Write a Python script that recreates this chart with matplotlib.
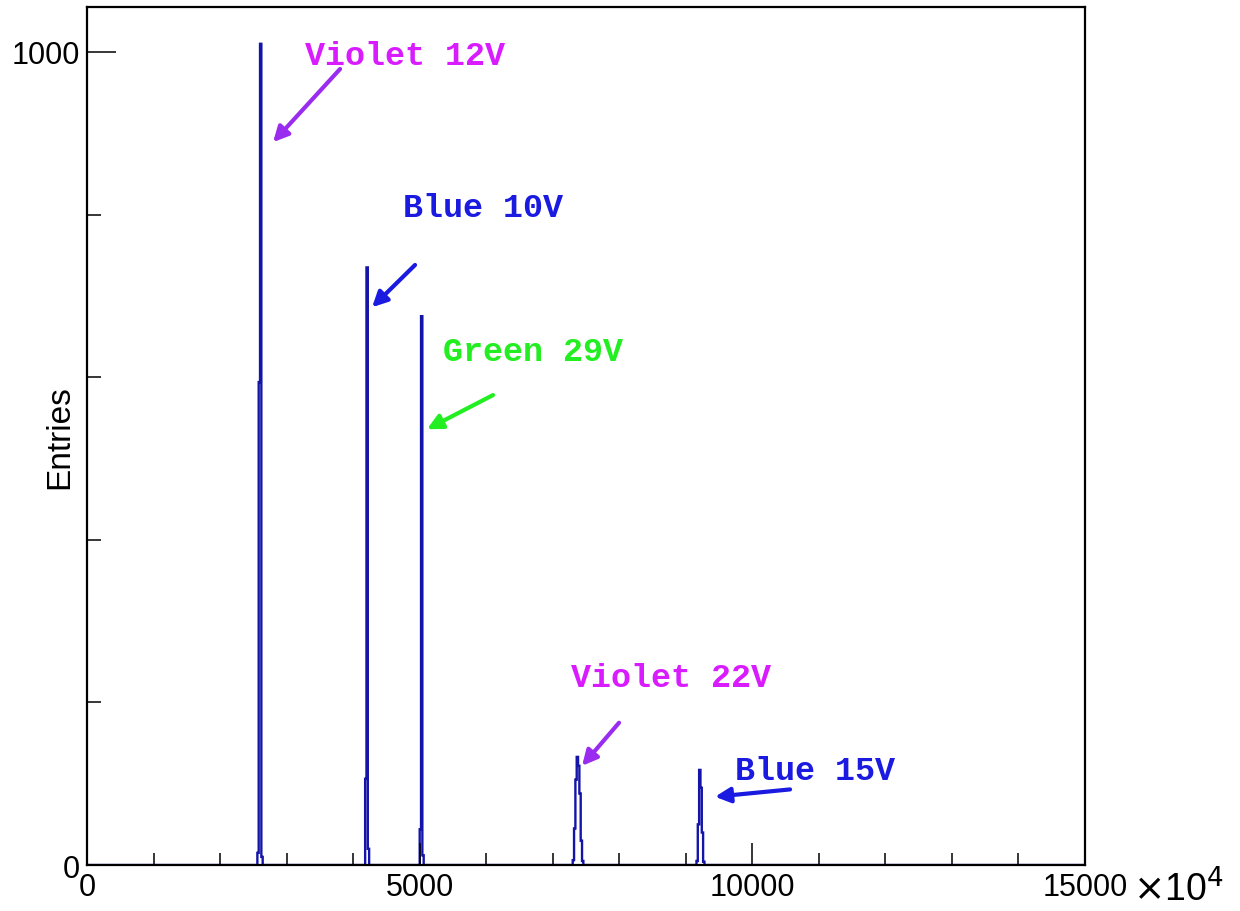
import numpy as np
import matplotlib
matplotlib.use("Agg")
import matplotlib.pyplot as plt
from matplotlib.ticker import MultipleLocator, FixedLocator

# histogram: 20-unit bins from 0 to 15000, only non-empty bins listed
bin_width = 20
x_min, x_max = 0, 15000
filled_bins = [2560, 2580, 2600, 2620,
               4180, 4200, 4220,
               5000, 5020, 5040,
               7300, 7320, 7340, 7360, 7380, 7400, 7420, 7440,
               9160, 9180, 9200, 9220, 9240, 9260]
filled_counts = [15, 594, 1010, 10,
                 106, 735, 20,
                 44, 675, 12,
                 6, 45, 105, 133, 122, 88, 30, 5,
                 5, 50, 117, 95, 40, 4]

labels = ["Violet 12V", "Blue 10V", "Green 29V", "Violet 22V", "Blue 15V"]
text_colors = ["#d81cff", "#1a1ae0", "#22ee22", "#d81cff", "#1a1ae0"]
arrow_colors = ["#9a2cf0", "#1a1ae0", "#22ee22", "#9a2cf0", "#1a1ae0"]
text_pos = [(3277, 995), (4750, 809), (5351, 632), (7275, 231), (9740, 116)]
arrow_tail = [(3803, 979), (4930, 738), (6102, 578), (7996, 175), (10567, 93)]
arrow_head = [(2796, 889), (4284, 686), (5110, 536), (7440, 122), (9439, 84)]

edges = np.arange(x_min, x_max + bin_width, bin_width)
counts = np.zeros(len(edges) - 1)
for lo, c in zip(filled_bins, filled_counts):
    counts[int((lo - x_min) // bin_width)] = c

fig = plt.figure(figsize=(12.4, 9.12), dpi=100)
ax = fig.add_axes([0.0702, 0.0504, 0.875 - 0.0702, 0.991 - 0.0504])

ax.stairs(counts, edges, color="#1414a8", linewidth=1.7)

ax.set_xlim(x_min, x_max)
ax.set_ylim(0, 1055)

sans = ["Liberation Sans", "DejaVu Sans"]
ax.xaxis.set_major_locator(FixedLocator([0, 5000, 10000, 15000]))
ax.xaxis.set_minor_locator(MultipleLocator(1000))
ax.yaxis.set_major_locator(FixedLocator([0, 1000]))
ax.yaxis.set_minor_locator(MultipleLocator(200))
ax.tick_params(which="both", direction="in", top=False, right=False, width=1.1)
ax.tick_params(axis="x", which="major", length=16, pad=5)
ax.tick_params(axis="x", which="minor", length=9)
ax.tick_params(axis="y", which="major", length=21, pad=5)
ax.tick_params(axis="y", which="minor", length=10)
for lab in ax.get_xticklabels() + ax.get_yticklabels():
    lab.set_fontfamily(sans)
    lab.set_fontsize(22)

for sp in ax.spines.values():
    sp.set_linewidth(1.6)

ax.set_ylabel("Entries", fontsize=24, family=sans)
ax.yaxis.set_label_coords(-0.012, 0.5)

fig.text(0.914, 0.025, r"$\times$10$^{4}$", fontsize=27, ha="left", va="center",
         family=sans)

for lab, tc, ac, tp, tail, head in zip(labels, text_colors, arrow_colors,
                                       text_pos, arrow_tail, arrow_head):
    ax.text(tp[0], tp[1], lab, color=tc, fontsize=24, fontweight="bold",
            family=["Liberation Mono", "DejaVu Sans Mono"], ha="left", va="center")
    ax.annotate("", xy=head, xytext=tail,
                arrowprops=dict(arrowstyle="-|>,head_length=0.9,head_width=0.45",
                                color=ac, lw=3, shrinkA=0, shrinkB=0))

fig.savefig("out.png", dpi=100)
